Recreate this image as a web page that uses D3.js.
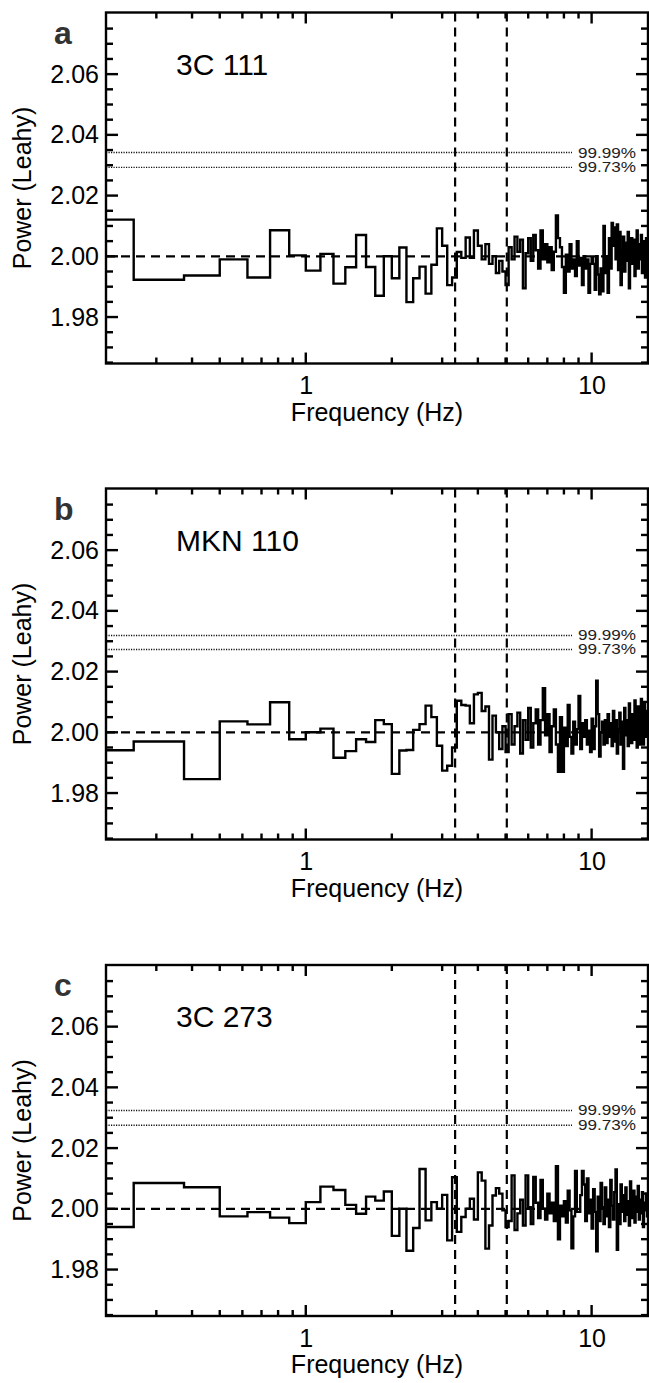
<!DOCTYPE html>
<html>
<head>
<meta charset="utf-8">
<script src="https://cdn.jsdelivr.net/npm/d3@7"></script>
<style>
  body { margin: 0; background: #fff; }
  svg { display: block; font-family: 'Liberation Sans', Arial, sans-serif; }
</style>
</head>
<body>
<svg id="chart"></svg>
<script>
// panel labels
const sources = ['3C 111', 'MKN 110', '3C 273'];
const panelLetters = ['a', 'b', 'c'];

// Leahy power, one value per 0.125 Hz bin (first bin 0.125-0.25 Hz)
const binWidth = 0.125;

const power3C111 = [
  2.0121, 1.9923, 1.9937, 1.9990, 1.9930, 2.0086, 2.0003, 1.9953, 2.0008, 1.9910,
  1.9964, 2.0070, 1.9965, 1.9870, 2.0000, 1.9928, 2.0029, 1.9849, 1.9928, 1.9966,
  1.9877, 1.9972, 2.0092, 2.0035, 1.9905, 1.9930, 2.0014, 1.9995, 2.0062, 1.9995,
  2.0085, 2.0035, 1.9990, 2.0040, 1.9975, 2.0000, 1.9945, 1.9985, 1.9950,
  1.9905, 2.0030, 1.9990, 2.0065, 2.0015, 2.0055, 1.9895, 2.0010,
  2.0060, 1.9985, 2.0070, 2.0020, 1.9960, 2.0085, 1.9990, 2.0040,
  1.9980, 2.0030, 1.9955, 2.0015, 2.0135, 2.0060, 2.0030, 1.9965,
  1.9880, 2.0005, 1.9950, 2.0040, 1.9960, 1.9990, 1.9935, 2.0050,
  1.9970, 1.9995, 1.9905, 2.0000, 1.9960, 1.9990, 1.9880, 1.9975,
  1.9995, 1.9975, 1.9890, 2.0000, 1.9940, 1.9875, 1.9960, 1.9885,
  2.0100, 1.9945, 2.0000, 1.9880, 2.0060, 1.9960, 2.0110, 2.0035,
  2.0095, 1.9990, 2.0105, 1.9955, 2.0080, 1.9905, 2.0020, 2.0065,
  1.9950, 2.0045, 1.9985, 2.0080, 1.9895, 2.0030, 2.0060, 1.9975,
  2.0055, 1.9935, 2.0010, 2.0085, 1.9960, 2.0040, 1.9990, 2.0070,
  1.9945, 2.0050, 2.0010, 1.9930, 2.0060, 2.0000
];

const powerMKN110 = [
  1.9941, 1.9970, 1.9846, 2.0036, 2.0026, 2.0099, 1.9977, 2.0000, 2.0012, 1.9916,
  1.9938, 1.9977, 1.9968, 2.0040, 2.0027, 1.9863, 1.9940, 1.9942, 2.0008, 2.0027,
  2.0088, 2.0050, 1.9956, 1.9874, 1.9890, 1.9950, 2.0104, 2.0090, 2.0088, 2.0030,
  2.0125, 2.0130, 2.0070, 2.0085, 1.9910, 2.0055, 2.0000, 1.9945, 2.0020,
  1.9935, 2.0060, 1.9960, 2.0020, 2.0065, 1.9930, 2.0040, 1.9975,
  2.0080, 1.9950, 2.0030, 2.0075, 1.9960, 2.0040, 2.0145, 1.9990,
  2.0060, 1.9935, 2.0020, 2.0075, 1.9960, 1.9870, 2.0050, 1.9870,
  2.0015, 1.9955, 2.0090, 1.9985, 1.9930, 2.0035, 1.9960, 2.0010,
  2.0120, 1.9945, 2.0030, 1.9985, 2.0040, 1.9960, 2.0005, 1.9935,
  2.0045, 1.9945, 2.0020, 2.0170, 2.0060, 1.9920, 2.0000, 2.0035,
  1.9960, 2.0040, 1.9965, 2.0060, 1.9985, 2.0030, 1.9955, 2.0070,
  1.9970, 2.0040, 1.9930, 2.0010, 2.0065, 1.9960, 2.0035, 1.9880,
  2.0080, 1.9990, 2.0040, 1.9955, 2.0095, 2.0010, 1.9965, 2.0060,
  1.9975, 2.0105, 2.0000, 1.9950, 2.0085, 2.0020, 1.9960, 2.0110,
  2.0030, 1.9960, 2.0095, 2.0010, 1.9985, 2.0070
];

const power3C273 = [
  1.9940, 2.0085, 2.0071, 1.9975, 1.9989, 1.9971, 1.9953, 2.0022, 2.0073, 2.0062,
  2.0013, 1.9984, 2.0040, 2.0027, 2.0057, 1.9911, 2.0000, 1.9862, 1.9937, 2.0131,
  1.9962, 2.0022, 2.0000, 2.0046, 1.9896, 2.0104, 1.9924, 1.9973, 2.0000, 2.0033,
  1.9965, 2.0120, 2.0093, 1.9869, 1.9945, 2.0044, 2.0068, 2.0050, 1.9995,
  1.9940, 1.9960, 2.0110, 1.9930, 1.9985, 2.0030, 1.9945, 2.0110,
  2.0005, 1.9950, 2.0105, 2.0020, 1.9970, 2.0095, 2.0000, 1.9965,
  2.0050, 1.9985, 2.0020, 1.9960, 2.0140, 1.9900, 2.0010, 1.9975,
  2.0025, 1.9955, 2.0060, 1.9995, 1.9870, 1.9975, 2.0125, 1.9990,
  1.9990, 2.0045, 2.0125, 2.0080, 1.9960, 2.0100, 1.9985, 2.0030,
  1.9935, 2.0065, 1.9990, 1.9860, 2.0040, 1.9960, 2.0085, 2.0005,
  1.9950, 2.0070, 1.9975, 2.0030, 1.9940, 2.0095, 2.0010, 1.9965,
  2.0055, 2.0130, 1.9865, 2.0015, 1.9950, 2.0080, 1.9990, 2.0045,
  1.9960, 2.0070, 1.9980, 2.0025, 1.9945, 2.0090, 2.0005, 1.9970,
  2.0060, 1.9955, 2.0040, 1.9990, 2.0075, 1.9965, 2.0030, 1.9985,
  2.0055, 1.9940, 2.0020, 1.9995, 2.0050, 1.9975
];

// significance levels per panel
const level9999 = [2.0342, 2.0319, 2.0324];
const level9973 = [2.0293, 2.0273, 2.0275];
const levelLabels = ['99.99%', '99.73%'];

// reference lines
const markerFreqs = [3.33, 5.05];
const meanPower = 2.0;

// axis ticks
const yMajorTicks = [1.98, 2.00, 2.02, 2.04, 2.06];
const yMinorTicks = [1.965, 1.97, 1.975, 1.985, 1.99, 1.995, 2.005, 2.01, 2.015,
  2.025, 2.03, 2.035, 2.045, 2.05, 2.055, 2.065, 2.07, 2.075];
const xMajorTicks = [1, 10];
const xMinorTicks = [0.3, 0.4, 0.5, 0.6, 0.7, 0.8, 0.9, 2, 3, 4, 5, 6, 7, 8, 9];

class PowerSpectrum {
  constructor(_config, _data) {
    this.config = {
      parentElement: _config.parentElement,
      index: _config.index,
      top: _config.top,
      left: 106,
      width: 542,
      height: 351,
      xDomain: [0.2, 15.75],
      yDomain: [1.9647, 2.0803],
      dottedEnd: 466,
      tickWidth: 2.4,
      xTick: { major: 11, minor: 6 },
      yTick: { major: 12, minor: 7 },
    };
    this.data = _data;
    this.initVis();
  }

  initVis() {
    let vis = this;
    const cfg = vis.config;

    vis.chart = d3.select(cfg.parentElement).append('g')
      .attr('transform', `translate(${cfg.left},${cfg.top})`);

    vis.x = d3.scaleLog().domain(cfg.xDomain).range([0, cfg.width]);
    vis.y = d3.scaleLinear().domain(cfg.yDomain).range([cfg.height, 0]);

    vis.chart.append('clipPath').attr('id', `clip-${cfg.index}`)
      .append('rect').attr('width', cfg.width).attr('height', cfg.height);

    vis.renderVis();
  }

  renderVis() {
    let vis = this;
    const cfg = vis.config;
    const i = cfg.index;
    const levels = [vis.data.sig9999, vis.data.sig9973];

    // significance levels (dotted)
    vis.chart.selectAll('.sig-line')
      .data(levels)
      .join('line')
      .attr('class', 'sig-line')
      .attr('x1', 0).attr('x2', cfg.dottedEnd)
      .attr('y1', d => vis.y(d)).attr('y2', d => vis.y(d))
      .attr('stroke', '#111').attr('stroke-width', 1.4)
      .attr('stroke-dasharray', '1.2,1.3');

    vis.chart.selectAll('.sig-label')
      .data(levels)
      .join('text')
      .attr('class', 'sig-label')
      .attr('x', cfg.dottedEnd + 6)
      .attr('y', d => vis.y(d))
      .attr('dy', '0.36em')
      .attr('font-size', 14)
      .attr('textLength', 58)
      .attr('lengthAdjust', 'spacingAndGlyphs')
      .attr('fill', '#222')
      .text((d, j) => levelLabels[j]);

    // mean level and marker frequencies (dashed)
    vis.chart.append('line')
      .attr('x1', 0).attr('x2', cfg.width)
      .attr('y1', vis.y(meanPower)).attr('y2', vis.y(meanPower))
      .attr('stroke', '#000').attr('stroke-width', 2.2)
      .attr('stroke-dasharray', '9,6');

    vis.chart.selectAll('.marker')
      .data(markerFreqs)
      .join('line')
      .attr('class', 'marker')
      .attr('x1', d => vis.x(d)).attr('x2', d => vis.x(d))
      .attr('y1', 0).attr('y2', cfg.height)
      .attr('stroke', '#000').attr('stroke-width', 2.2)
      .attr('stroke-dasharray', '9,6');

    // step spectrum
    const n = vis.data.power.length;
    const pts = vis.data.power.map((p, k) => [binWidth * (k + 1), p]);
    pts.push([binWidth * (n + 1), vis.data.power[n - 1]]);
    const line = d3.line()
      .x(d => vis.x(d[0]))
      .y(d => vis.y(d[1]))
      .curve(d3.curveStepAfter);

    vis.chart.append('path')
      .datum(pts)
      .attr('clip-path', `url(#clip-${i})`)
      .attr('d', line)
      .attr('fill', 'none')
      .attr('stroke', '#000')
      .attr('stroke-width', 2.4);

    // inward ticks on all four sides, drawn as small filled rects
    const tw = cfg.tickWidth;
    const xTicks = xMajorTicks.map(v => ({ v, len: cfg.xTick.major }))
      .concat(xMinorTicks.map(v => ({ v, len: cfg.xTick.minor })));
    const yTicks = yMajorTicks.map(v => ({ v, len: cfg.yTick.major }))
      .concat(yMinorTicks.map(v => ({ v, len: cfg.yTick.minor })));

    const ticks = vis.chart.append('g').attr('class', 'ticks');

    ticks.selectAll('rect.xt-bottom').data(xTicks).join('rect')
      .attr('class', 'xt-bottom')
      .attr('x', d => vis.x(d.v) - tw / 2).attr('width', tw)
      .attr('y', d => cfg.height - d.len).attr('height', d => d.len)
      .style('fill', '#000');
    ticks.selectAll('rect.xt-top').data(xTicks).join('rect')
      .attr('class', 'xt-top')
      .attr('x', d => vis.x(d.v) - tw / 2).attr('width', tw)
      .attr('y', 0).attr('height', d => d.len)
      .style('fill', '#000');
    ticks.selectAll('rect.yt-left').data(yTicks).join('rect')
      .attr('class', 'yt-left')
      .attr('y', d => vis.y(d.v) - tw / 2).attr('height', tw)
      .attr('x', 0).attr('width', d => d.len)
      .style('fill', '#000');
    ticks.selectAll('rect.yt-right').data(yTicks).join('rect')
      .attr('class', 'yt-right')
      .attr('y', d => vis.y(d.v) - tw / 2).attr('height', tw)
      .attr('x', d => cfg.width - d.len).attr('width', d => d.len)
      .style('fill', '#000');

    // tick labels from d3 axes
    const xAxis = vis.chart.append('g')
      .attr('transform', `translate(0,${cfg.height})`)
      .call(d3.axisBottom(vis.x).tickValues(xMajorTicks).tickSize(0)
        .tickPadding(13).tickFormat(d3.format('d')));
    const yAxis = vis.chart.append('g')
      .call(d3.axisLeft(vis.y).tickValues(yMajorTicks).tickSize(0)
        .tickPadding(7).tickFormat(d3.format('.2f')));

    [xAxis, yAxis].forEach(g => {
      g.select('.domain').remove();
      g.selectAll('.tick line').remove();
      g.selectAll('.tick text')
        .attr('font-size', 25).attr('fill', '#000')
        .attr('font-family', "'Liberation Sans', Arial, sans-serif");
    });

    // frame
    vis.chart.append('rect')
      .attr('width', cfg.width).attr('height', cfg.height)
      .attr('fill', 'none').attr('stroke', '#000').attr('stroke-width', 2.4);

    // titles
    vis.chart.append('text')
      .attr('x', cfg.width / 2).attr('y', cfg.height + 57)
      .attr('text-anchor', 'middle').attr('font-size', 25)
      .text('Frequency (Hz)');

    vis.chart.append('text')
      .attr('transform', `translate(${31 - cfg.left},${cfg.height / 2}) rotate(-90)`)
      .attr('text-anchor', 'middle').attr('font-size', 25)
      .text('Power (Leahy)');

    vis.chart.append('text')
      .attr('x', 176 - cfg.left).attr('y', 62)
      .attr('font-size', 30)
      .text(vis.data.source);

    vis.chart.append('text')
      .attr('x', 54 - cfg.left).attr('y', 31)
      .attr('font-size', 32).attr('font-weight', 'bold')
      .attr('fill', '#333')
      .text(vis.data.letter);
  }
}

const svg = d3.select('#chart').attr('width', 649).attr('height', 1383);
const spectra = [power3C111, powerMKN110, power3C273];
const panelTops = [12.5, 488.5, 965];

spectra.forEach((power, i) => {
  new PowerSpectrum(
    { parentElement: '#chart', index: i, top: panelTops[i] },
    {
      power: power,
      source: sources[i],
      letter: panelLetters[i],
      sig9999: level9999[i],
      sig9973: level9973[i],
    }
  );
});
</script>
</body>
</html>
